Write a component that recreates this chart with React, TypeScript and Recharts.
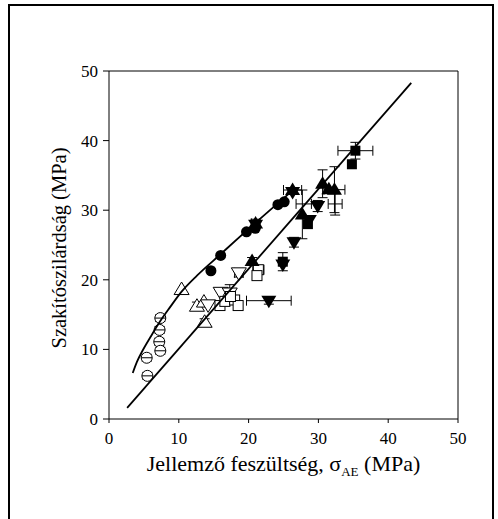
import React from 'react';
import { ComposedChart, Scatter, XAxis, YAxis, ErrorBar } from 'recharts';

// [x, y, errX, errY]
const openCircles: number[][] = [
  [5.4, 8.8, 0, 0.5], [5.5, 6.2, 0, 0.5], [7.35, 14.5, 0, 0.5],
  [7.25, 12.8, 0, 0.5], [7.2, 11.1, 0, 0.5], [7.35, 9.8, 0, 0.5],
];
const openTriangles: number[][] = [
  [10.4, 18.6, 0, 0], [12.6, 16.2, 0, 0.6], [13.6, 16.8, 0, 0], [13.7, 13.9, 0, 0.5],
];
const openInvTriangles: number[][] = [
  [16.0, 18.2, 0, 0], [17.3, 18.1, 0, 1.2], [18.6, 21.0, 0.6, 0.6], [14.2, 16.4, 0, 0],
];
const openSquares: number[][] = [
  [15.9, 16.3, 0, 0.6], [16.6, 16.9, 0, 0], [18.0, 17.1, 0, 0], [18.5, 16.3, 0, 0],
  [21.4, 21.45, 0.8, 0], [21.2, 20.6, 0, 0.5], [17.4, 17.6, 0, 0],
];
const filledCircles: number[][] = [
  [14.6, 21.3, 0, 0], [16.0, 23.5, 0, 0], [19.7, 26.9, 0, 0],
  [20.96, 27.4, 0, 0], [24.2, 30.8, 0, 0], [25.1, 31.2, 0, 0],
];
const filledTriangles: number[][] = [
  [21.0, 28.1, 0.6, 0.6], [20.5, 22.7, 0, 0.5], [26.3, 32.9, 1.3, 0],
  [30.6, 33.8, 0, 2.0], [32.3, 32.95, 1.5, 3.3], [31.5, 33.0, 0, 0], [27.7, 29.4, 0, 3.5],
];
const filledInvTriangles: number[][] = [
  [22.9, 17.0, 3.2, 0.5], [26.5, 25.4, 0, 0.7], [29.9, 30.6, 0, 0.8],
  [28.7, 28.6, 0, 0], [21.0, 27.9, 0, 0], [24.9, 22.2, 0, 0], [26.3, 32.6, 0, 0],
];
const filledSquares: number[][] = [
  [35.3, 38.55, 2.5, 1.2], [34.8, 36.6, 0, 0], [28.5, 28.0, 0, 0], [24.9, 22.6, 0, 1.3],
];
const unmarked: number[][] = [
  [27.9, 30.9, 1.1, 0], [32.4, 30.9, 1.0, 1.6],
];
const upperCurve: number[][] = [
  [3.4, 6.6], [4.0, 8.2], [4.8, 9.8], [5.9, 11.7], [7.3, 14.0], [8.7, 16.0], [10.4, 18.3],
  [12.6, 20.6], [15.9, 23.6], [21.0, 28.2], [26.5, 33.0],
];
const lowerLine: number[][] = [
  [2.6, 1.6], [43.3, 48.3],
];

const majorTicks = [0, 10, 20, 30, 40, 50];
const minorTicks = [0, 5, 10, 15, 20, 25, 30, 35, 40, 45, 50];

const toPts = (a: number[][]) => a.map(([x, y, ex, ey]) => ({ x, y, ex: ex ?? 0, ey: ey ?? 0 }));

const FONT = 'Liberation Serif, Times New Roman, Times, serif';

const FilledCircle = (p: any) => <circle cx={p.cx} cy={p.cy} r={5.5} fill="#000" />;
const OpenCircle = (p: any) => (
  <g>
    <circle cx={p.cx} cy={p.cy} r={5.5} fill="#fff" stroke="#000" strokeWidth={1} />
    <line x1={p.cx - 5.5} y1={p.cy} x2={p.cx + 5.5} y2={p.cy} stroke="#000" strokeWidth={1} />
  </g>
);
const triPts = (cx: number, cy: number, up: boolean) => {
  const h = 7.5;
  const w = 7.5;
  const b = 5;
  return up
    ? `${cx},${cy - h} ${cx - w},${cy + b} ${cx + w},${cy + b}`
    : `${cx},${cy + h} ${cx - w},${cy - b} ${cx + w},${cy - b}`;
};
const FilledTri = (p: any) => <polygon points={triPts(p.cx, p.cy, true)} fill="#000" />;
const FilledInv = (p: any) => <polygon points={triPts(p.cx, p.cy, false)} fill="#000" />;
const OpenTri = (p: any) => <polygon points={triPts(p.cx, p.cy, true)} fill="#fff" stroke="#000" strokeWidth={1} />;
const OpenInv = (p: any) => <polygon points={triPts(p.cx, p.cy, false)} fill="#fff" stroke="#000" strokeWidth={1} />;
const FilledSq = (p: any) => <rect x={p.cx - 5} y={p.cy - 5} width={10} height={10} fill="#000" />;
const OpenSq = (p: any) => <rect x={p.cx - 5} y={p.cy - 5} width={10} height={10} fill="#fff" stroke="#000" strokeWidth={1} />;
const NoShape = () => <g />;

const XLabel = (props: any) => {
  const vb = props.viewBox || { x: 109, y: 419, width: 349 };
  const cx = vb.x + vb.width / 2;
  return (
    <text x={cx} y={vb.y + 52} textAnchor="middle" style={{ fontFamily: FONT }} fontSize={22} fill="#000">
      <tspan>Jellemző feszültség, σ</tspan>
      <tspan fontSize={13} dy={5}>AE</tspan>
      <tspan dy={-5}> (MPa)</tspan>
    </text>
  );
};
const YLabel = (props: any) => {
  const vb = props.viewBox || { x: 0, y: 71, height: 348 };
  const cy = vb.y + vb.height / 2 + 3;
  const x = 66;
  return (
    <text x={x} y={cy} transform={`rotate(-90, ${x}, ${cy})`} textAnchor="middle" style={{ fontFamily: FONT }} fontSize={20.5} fill="#000">
      Szakítószilárdság (MPa)
    </text>
  );
};

const tickStyle = { fontFamily: FONT, fontSize: 17, fill: '#000' };
const axisStroke = { stroke: '#000', strokeWidth: 1 };

export default function App() {
  const err = (
    [<ErrorBar key="ex" dataKey="ex" direction="x" width={5} stroke="#000" strokeWidth={1} />,
     <ErrorBar key="ey" dataKey="ey" direction="y" width={5} stroke="#000" strokeWidth={1} />]
  );
  return (
    <div style={{ position: 'absolute', left: 0, top: 0, width: 498, height: 519, overflow: 'hidden', background: '#fff', fontFamily: FONT }}>
      <div style={{ position: 'absolute', left: 8, top: 4, width: 482, height: 600, border: '2px solid #000', boxSizing: 'content-box' }} />
      <div style={{ position: 'absolute', left: 0, top: 0 }}>
        <ComposedChart width={498} height={519} margin={{ top: 71, right: 40, bottom: 0, left: 0 }} style={{ fontFamily: FONT }}>
          <XAxis xAxisId={0} dataKey="x" type="number" domain={[0, 50]} ticks={majorTicks} allowDataOverflow
            height={100} tickSize={4} tickMargin={9} tick={tickStyle} axisLine={axisStroke} tickLine={axisStroke}
            label={<XLabel />} />
          <XAxis xAxisId="minorB" type="number" domain={[0, 50]} ticks={minorTicks} allowDataOverflow mirror
            tickSize={3} tick={false} axisLine={false} tickLine={axisStroke} />
          <XAxis xAxisId="top" orientation="top" type="number" domain={[0, 50]} ticks={minorTicks} allowDataOverflow mirror
            tickSize={4} tick={false} axisLine={axisStroke} tickLine={axisStroke} />
          <YAxis yAxisId={0} dataKey="y" type="number" domain={[0, 50]} ticks={majorTicks} allowDataOverflow
            width={109} tickSize={6} tickMargin={5} tick={tickStyle} axisLine={axisStroke} tickLine={axisStroke}
            label={<YLabel />} />
          <YAxis yAxisId="minorL" type="number" domain={[0, 50]} ticks={minorTicks} allowDataOverflow mirror
            tickSize={3} tick={false} axisLine={false} tickLine={axisStroke} />
          <YAxis yAxisId="right" orientation="right" type="number" domain={[0, 50]} ticks={minorTicks} allowDataOverflow mirror
            tickSize={4} tick={false} axisLine={axisStroke} tickLine={axisStroke} />

          <Scatter data={toPts(openCircles)} shape={OpenCircle} isAnimationActive={false}>{err}</Scatter>
          <Scatter data={toPts(openTriangles)} shape={OpenTri} isAnimationActive={false}>{err}</Scatter>
          <Scatter data={toPts(openInvTriangles)} shape={OpenInv} isAnimationActive={false}>{err}</Scatter>
          <Scatter data={toPts(openSquares)} shape={OpenSq} isAnimationActive={false}>{err}</Scatter>
          <Scatter data={toPts(filledCircles)} shape={FilledCircle} isAnimationActive={false}>{err}</Scatter>
          <Scatter data={toPts(filledSquares)} shape={FilledSq} isAnimationActive={false}>{err}</Scatter>
          <Scatter data={toPts(filledTriangles)} shape={FilledTri} isAnimationActive={false}>{err}</Scatter>
          <Scatter data={toPts(filledInvTriangles)} shape={FilledInv} isAnimationActive={false}>{err}</Scatter>
          <Scatter data={toPts(unmarked)} shape={NoShape} isAnimationActive={false}>{err}</Scatter>

          <Scatter data={toPts(upperCurve)} shape={NoShape} line={{ stroke: '#000', strokeWidth: 1.8 }} lineType="joint" lineJointType="monotoneX" isAnimationActive={false} />
          <Scatter data={toPts(lowerLine)} shape={NoShape} line={{ stroke: '#000', strokeWidth: 1.8 }} lineType="joint" isAnimationActive={false} />
        </ComposedChart>
      </div>
    </div>
  );
}
